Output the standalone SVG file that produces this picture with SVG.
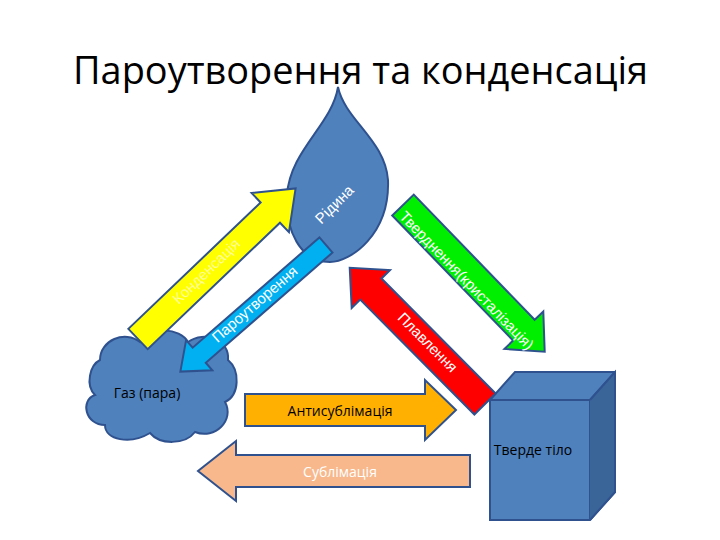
<svg xmlns="http://www.w3.org/2000/svg" width="720" height="540" viewBox="0 0 720 540">
<style>
.t{font-family:"Open Sans","Liberation Sans",sans-serif}
.st{stroke:#2F528F;stroke-width:2}
.lbl{font-family:"Liberation Sans",sans-serif;font-size:15px;fill:#fff;text-anchor:middle}
</style>
<rect width="720" height="540" fill="#fff"/>
<text class="t" x="73" y="84" font-size="38" textLength="575" lengthAdjust="spacingAndGlyphs" fill="#000">Пароутворення та конденсація</text>
<g id="drop"><path class="st" fill="#4F81BD" d="M338,87 C345,120 385,140 388,180 C390,235 350,262 330,262 C300,262 285,230 287,195 C290,150 332,125 338,87Z"/>
<text class="lbl" x="338" y="208" transform="rotate(-45 338 208)">Рідина</text></g>
<g id="cloud"><path class="st" fill="#4F81BD" d="M100,360 C100,340 125,330 140,342 C150,325 180,328 188,342 C205,330 230,340 228,360 C240,370 240,395 225,402 C235,420 215,440 195,432 C185,445 160,445 150,433 C130,445 105,440 105,425 C85,425 80,400 95,395 C85,385 90,365 100,360Z"/>
<text class="t" x="147" y="398" font-size="14" text-anchor="middle">Газ (пара)</text></g>
<g id="cube"><polygon class="st" fill="#4F81BD" points="490,400 515,372 615,372 615,492 590,520 490,520"/>
<polyline class="st" fill="none" points="490,400 590,400 615,372"/><line class="st" x1="590" y1="400" x2="590" y2="520"/>
<polygon fill="#3A6599" points="590,400 615,372 615,492 590,520"/>
<polyline class="st" fill="none" points="590,400 615,372 615,492 590,520"/>
<text class="t" x="533" y="455" font-size="14" text-anchor="middle">Тверде тіло</text></g>
<g id="connectors">
<polygon class="st" fill="#FFFF00" transform="translate(138,339) rotate(-43.7)" points="0,-14 183,-14 183,-27 218,0 183,27 183,14 0,14"/>
<text class="lbl" style="fill:#FFFF99" x="210" y="275" transform="rotate(-44 210 275)">Конденсація</text>
<polygon class="st" fill="#00B0F0" transform="translate(326,245) rotate(139)" points="0,-10 168,-10 168,-20 193,0 168,20 168,10 0,10"/>
<text class="lbl" x="258" y="308" transform="rotate(-41 258 308)">Пароутворення</text>
<polygon class="st" fill="#00EE00" transform="translate(403,205) rotate(46)" points="0,-15 174,-15 174,-27 204,0 174,27 174,15 0,15"/>
<text class="lbl" x="463" y="284" transform="rotate(46 463 284)">Тверднення(кристалізація)</text>
<polygon class="st" fill="#FF0000" transform="translate(485,404) rotate(-134.8)" points="0,-15 162,-15 162,-27 192,0 162,27 162,15 0,15"/>
<text class="lbl" x="424" y="346" transform="rotate(45 424 346)">Плавлення</text>
<polygon class="st" fill="#FFB000" points="245,394 425,394 425,380 456,410 425,440 425,426 245,426"/>
<text class="t" x="340" y="416" font-size="14" text-anchor="middle">Антисублімація</text>
<polygon class="st" fill="#F8B88B" points="470,455 236,455 236,441 198,471 236,501 236,487 470,487"/>
<text class="t" x="340" y="477" font-size="14" text-anchor="middle" fill="#fff">Сублімація</text>
</g>
</svg>
